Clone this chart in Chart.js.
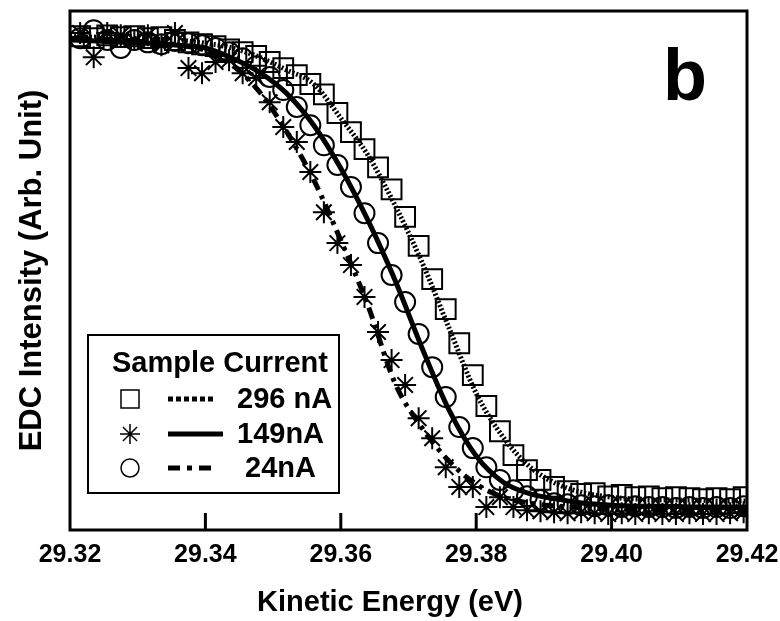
<!DOCTYPE html>
<html>
<head>
<meta charset="utf-8">
<script src="https://cdn.jsdelivr.net/npm/chart.js@4.4.1/dist/chart.umd.min.js"></script>
<style>
  html, body { margin: 0; padding: 0; background: #fff; }
  #wrap { width: 780px; height: 621px; position: relative; }
</style>
</head>
<body>
<div id="wrap"><canvas id="edc"></canvas></div>
<script>
// measured points (eV)
const markerEnergy = [
    29.3215, 29.3235, 29.3255, 29.3275, 29.3295, 29.3315, 29.3335, 29.3355, 29.3375, 29.3395,
    29.3415, 29.3435, 29.3455, 29.3475, 29.3495, 29.3515, 29.3535, 29.3555, 29.3575, 29.3595,
    29.3615, 29.3635, 29.3655, 29.3675, 29.3695, 29.3715, 29.3735, 29.3755, 29.3775, 29.3795,
    29.3815, 29.3835, 29.3855, 29.3875, 29.3895, 29.3915, 29.3935, 29.3955, 29.3975, 29.3995,
    29.4015, 29.4035, 29.4055, 29.4075, 29.4095, 29.4115, 29.4135, 29.4155, 29.4175, 29.4195
];
const squareEdc = [
    1.004, 1.000, 1.006, 1.002, 1.004, 1.000, 1.002, 0.996, 0.991, 0.987,
    0.983, 0.976, 0.970, 0.962, 0.949, 0.936, 0.921, 0.902, 0.880, 0.840,
    0.799, 0.763, 0.724, 0.677, 0.618, 0.556, 0.485, 0.421, 0.348, 0.280,
    0.214, 0.160, 0.109, 0.077, 0.056, 0.041, 0.032, 0.026, 0.028, 0.021,
    0.024, 0.019, 0.021, 0.017, 0.019, 0.017, 0.015, 0.017, 0.015, 0.019
];
const circleEdc = [
    1.000, 1.017, 0.996, 0.979, 0.996, 0.991, 0.987, 0.994, 0.989, 0.985,
    0.979, 0.970, 0.957, 0.940, 0.917, 0.889, 0.853, 0.814, 0.771, 0.729,
    0.682, 0.626, 0.562, 0.494, 0.436, 0.368, 0.297, 0.233, 0.169, 0.124,
    0.083, 0.056, 0.034, 0.021, 0.013, 0.006, 0.004, 0.002, 0.000, 0.002,
    -0.002, 0.000, -0.002, -0.002, -0.004, -0.002, -0.004, -0.002, -0.004, 0.000
];
const starEdc = [
    1.011, 0.959, 1.011, 1.006, 0.996, 1.006, 0.985, 1.011, 0.936, 0.925,
    0.949, 0.953, 0.925, 0.915, 0.863, 0.810, 0.778, 0.714, 0.628, 0.562,
    0.515, 0.447, 0.372, 0.312, 0.259, 0.188, 0.145, 0.083, 0.041, 0.041,
    -0.002, 0.019, -0.002, -0.009, -0.011, -0.013, -0.015, -0.013, -0.015, -0.017,
    -0.015, -0.017, -0.015, -0.017, -0.017, -0.015, -0.017, -0.017, -0.015, -0.013
];

// fitted curves
const fitEnergy = [
    29.320, 29.324, 29.328, 29.332, 29.336, 29.340, 29.344, 29.348, 29.352, 29.356,
    29.360, 29.364, 29.368, 29.372, 29.376, 29.380, 29.384, 29.388, 29.392, 29.396,
    29.400, 29.404, 29.408, 29.412, 29.416, 29.420
];
const fitDotted = [
    1.004, 1.002, 1.000, 0.998, 0.996, 0.989, 0.979, 0.959, 0.932, 0.902,
    0.829, 0.750, 0.643, 0.521, 0.380, 0.241, 0.147, 0.083, 0.047, 0.028,
    0.019, 0.015, 0.013, 0.013, 0.011, 0.011
];
const fitSolid = [
    0.996, 0.994, 0.991, 0.989, 0.985, 0.979, 0.957, 0.927, 0.882, 0.814,
    0.722, 0.611, 0.483, 0.338, 0.205, 0.107, 0.051, 0.026, 0.015, 0.006,
    0.002, 0.000, 0.000, -0.002, -0.002, -0.002
];
const fitDashDot = [
    1.000, 0.998, 0.996, 0.991, 0.985, 0.974, 0.942, 0.885, 0.800, 0.697,
    0.568, 0.429, 0.263, 0.167, 0.096, 0.047, 0.019, 0.006, 0.000, -0.004,
    -0.006, -0.009, -0.009, -0.009, -0.009, -0.009
];

const xTicks = [29.32, 29.34, 29.36, 29.38, 29.40, 29.42];
const legendLabels = ['296 nA', '149nA', '24nA'];

const FONT = '"Liberation Sans", Arial, Helvetica, sans-serif';

function pairs(xs, ys) {
    return xs.map(function(x, i) { return { x: x, y: ys[i] }; });
}

function strokeMarker(ctx, style, cx, cy, r) {
    ctx.beginPath();
    if (style === 'rect') {
        ctx.rect(cx - r, cy - r, 2 * r, 2 * r);
    } else if (style === 'circle') {
        ctx.arc(cx, cy, r, 0, Math.PI * 2);
    } else {
        const d = r * Math.SQRT1_2;
        ctx.moveTo(cx - r, cy); ctx.lineTo(cx + r, cy);
        ctx.moveTo(cx, cy - r); ctx.lineTo(cx, cy + r);
        ctx.moveTo(cx - d, cy - d); ctx.lineTo(cx + d, cy + d);
        ctx.moveTo(cx - d, cy + d); ctx.lineTo(cx + d, cy - d);
    }
    ctx.stroke();
}

const framePlugin = {
    id: 'frame',
    afterDatasetsDraw(chart) {
        const ctx = chart.ctx;
        const a = chart.chartArea;
        const xs = chart.scales.x;
        ctx.save();
        ctx.strokeStyle = '#000';
        ctx.lineWidth = 3;
        ctx.strokeRect(a.left, a.top, a.right - a.left, a.bottom - a.top);

        // tick marks point into the plot
        xTicks.forEach(function(v) {
            const px = xs.getPixelForValue(v);
            if (px < a.left + 3 || px > a.right - 3) return;
            ctx.beginPath();
            ctx.moveTo(px, a.bottom);
            ctx.lineTo(px, a.bottom - 17);
            ctx.stroke();
        });

        ctx.fillStyle = '#000';
        ctx.textBaseline = 'alphabetic';

        // x axis title (sits a little left of centre in the original)
        ctx.font = 'bold 29px ' + FONT;
        ctx.textAlign = 'center';
        ctx.fillText('Kinetic Energy (eV)', a.left + 320, a.bottom + 81);

        // panel letter
        ctx.font = 'bold 72px ' + FONT;
        ctx.textAlign = 'left';
        ctx.fillText('b', a.right - 84, a.top + 89);

        // legend box
        const bx = a.left + 18, by = a.bottom - 195;
        ctx.fillStyle = '#fff';
        ctx.fillRect(bx, by, 251, 158);
        ctx.lineWidth = 2;
        ctx.strokeRect(bx, by, 251, 158);
        ctx.fillStyle = '#000';
        ctx.font = 'bold 29px ' + FONT;
        ctx.fillText('Sample Current', bx + 24, by + 37);

        const rowMarker = ['rect', 'star', 'circle'];
        const rowDash = [[5, 3], [], [12, 7, 5, 7]];
        const rowLineEnd = [125, 135, 125];
        const rowTextX = [149, 149, 157];
        const rowY = [64, 99, 133];
        for (let i = 0; i < 3; i++) {
            const cy = by + rowY[i];
            ctx.lineWidth = 1.5;
            ctx.setLineDash([]);
            strokeMarker(ctx, rowMarker[i], bx + 42, cy, i === 1 ? 10 : 9);
            ctx.lineWidth = 5;
            ctx.setLineDash(rowDash[i]);
            ctx.beginPath();
            ctx.moveTo(bx + 80, cy);
            ctx.lineTo(bx + rowLineEnd[i], cy);
            ctx.stroke();
            ctx.setLineDash([]);
            ctx.fillText(legendLabels[i], bx + rowTextX[i], cy + 9);
        }
        ctx.restore();
    }
};

function markerSet(data, style, radius) {
    return {
        data: data,
        showLine: false,
        pointStyle: style,
        pointRadius: radius,
        pointHoverRadius: radius,
        pointBorderWidth: 2,
        pointBorderColor: '#000',
        pointBackgroundColor: 'rgba(0,0,0,0)'
    };
}

function fitSet(data, dash) {
    return {
        data: data,
        showLine: true,
        pointRadius: 0,
        borderColor: '#000',
        borderWidth: 5,
        borderDash: dash,
        cubicInterpolationMode: 'monotone',
        fill: false
    };
}

document.addEventListener('DOMContentLoaded', function() {
    const ctx = document.getElementById('edc').getContext('2d');
    new Chart(ctx, {
        type: 'scatter',
        data: {
            datasets: [
                fitSet(pairs(fitEnergy, fitSolid), []),
                fitSet(pairs(fitEnergy, fitDotted), [2, 2]),
                fitSet(pairs(fitEnergy, fitDashDot), [12, 6, 4, 6]),
                markerSet(pairs(markerEnergy, squareEdc), 'rect', 14),
                markerSet(pairs(markerEnergy, circleEdc), 'circle', 10),
                markerSet(pairs(markerEnergy, starEdc), 'star', 11)
            ]
        },
        options: {
            responsive: true,
            maintainAspectRatio: false,
            animation: false,
            layout: { autoPadding: false, padding: { top: 11, right: 33, left: 0, bottom: 0 } },
            plugins: {
                legend: { display: false },
                tooltip: { enabled: false }
            },
            scales: {
                x: {
                    type: 'linear',
                    min: 29.32,
                    max: 29.42,
                    afterBuildTicks: function(scale) {
                        scale.ticks = xTicks.map(function(v) { return { value: v }; });
                    },
                    afterFit: function(scale) {
                        scale.height = 91;
                        scale.paddingLeft = 0;
                        scale.paddingRight = 0;
                    },
                    grid: { display: false, drawTicks: false },
                    border: { display: false },
                    ticks: {
                        color: '#000',
                        padding: 10,
                        maxRotation: 0,
                        font: { family: FONT, size: 25, weight: 'bold' },
                        callback: function(v) { return Number(v).toFixed(2); }
                    },
                    title: { display: false }
                },
                y: {
                    type: 'linear',
                    min: -0.051,
                    max: 1.058,
                    afterFit: function(scale) {
                        scale.width = 70;
                        scale.paddingTop = 0;
                        scale.paddingBottom = 0;
                    },
                    grid: { display: false, drawTicks: false },
                    border: { display: false },
                    ticks: { display: false },
                    title: {
                        display: true,
                        text: 'EDC Intensity (Arb. Unit)',
                        color: '#000',
                        padding: { top: 14, bottom: 0 },
                        font: { family: FONT, size: 31, weight: 'bold' }
                    }
                }
            }
        },
        plugins: [framePlugin]
    });
});
</script>
</body>
</html>
